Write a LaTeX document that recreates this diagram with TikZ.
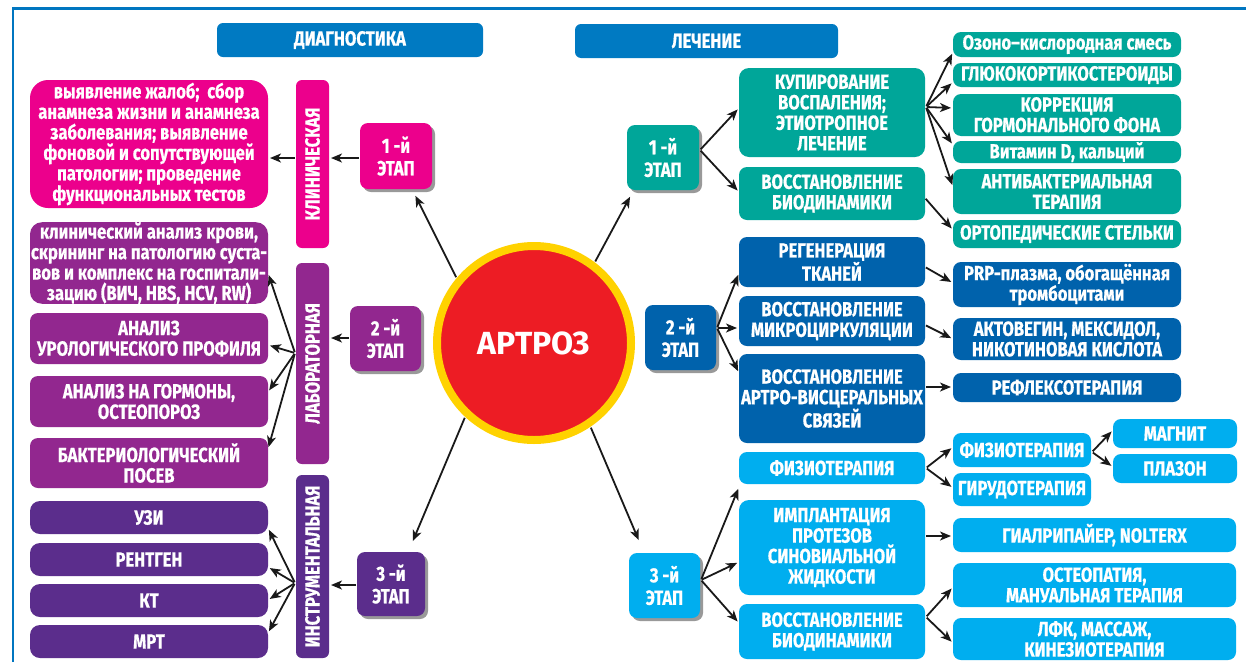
\documentclass[tikz,border=0pt]{standalone}
\usepackage{fontspec}
\setmainfont{Fira Sans}
\newfontfamily\condfam{Fira Sans}[FakeStretch=0.81, BoldFeatures={FakeBold=0.6}]
\usetikzlibrary{arrows.meta,shadows,calc}
\definecolor{cpink}{RGB}{236,0,140}
\definecolor{clab}{RGB}{146,39,143}
\definecolor{cins}{RGB}{91,45,140}
\definecolor{chead}{RGB}{0,122,194}
\definecolor{cteal}{RGB}{0,166,153}
\definecolor{cdblue}{RGB}{0,98,172}
\definecolor{clblue}{RGB}{0,174,239}
\definecolor{cred}{RGB}{237,28,36}
\definecolor{cyel}{RGB}{255,210,0}
\definecolor{cframe}{RGB}{0,118,192}
\newcommand\boxfont{\condfam\bfseries\fontsize{20.5}{20.5}\selectfont}
\newcommand\bx[7]{\node[#2, minimum width={#5-#3}, minimum height={#6-#4}] (#1) at ({(#3+#5)/2},{(#4+#6)/2}) {#7};}
\tikzset{
  box/.style={rounded corners=8pt, align=center, text=white, font=\boxfont, inner sep=0pt, outer sep=0pt},
  stage/.style={box, drop shadow={shadow xshift=3pt, shadow yshift=-3pt, fill=black!40, opacity=1}},
  bar/.style={box, rotate=90, rounded corners=6pt},
  head/.style={box, fill=chead, rounded corners=6pt},
  arr/.style={-{Stealth[length=11pt,width=9pt,inset=3pt]}, line width=1.8pt, black!90, shorten >=2pt, shorten <=1pt},
}
\begin{document}
\begin{tikzpicture}[x=1pt,y=-1pt]
\useasboundingbox (0,0) rectangle (1246,662);
\fill[white] (0,0) rectangle (1246,662);
\draw[cframe, line width=2.5pt] (13,662) -- (13,8.5) -- (1246,8.5);

% headers
\bx{hD}{head}{217}{23}{483}{57}{ДИАГНОСТИКА}
\bx{hL}{head}{575}{24}{838}{58}{ЛЕЧЕНИЕ}

% centre
\node[circle, fill=cred, draw=cyel, line width=8pt, minimum size=194pt, inner sep=0pt, text=white, font=\bfseries\fontsize{32}{34}\selectfont] (art) at (534,343) {АРТРОЗ};

% left: clinical
\bx{clin}{box,fill=cpink,rounded corners=18pt}{30}{80}{268}{208}{выявление жалоб;~~сбор\\анамнеза жизни и анамнеза\\заболевания; выявление\\фоновой и сопутствующей\\патологии; проведение\\функциональных тестов}
\node[bar, fill=cpink, minimum width=168pt, minimum height=33pt] (klin) at (312.5,164) {КЛИНИЧЕСКАЯ};
\bx{stA}{stage,fill=cpink}{360}{123}{432}{189}{1 -й\\[2pt]ЭТАП}

% left: lab
\bx{labA}{box,fill=clab,rounded corners=12pt}{30}{223}{268}{303}{клинический анализ крови,\\скрининг на патологию суста-\\вов и комплекс на госпитали-\\зацию (ВИЧ, HBS, HCV, RW)}
\bx{labB}{box,fill=clab}{30}{313}{268}{364}{АНАЛИЗ\\УРОЛОГИЧЕСКОГО ПРОФИЛЯ}
\bx{labC}{box,fill=clab}{30}{376}{268}{427}{АНАЛИЗ НА ГОРМОНЫ,\\ОСТЕОПОРОЗ}
\bx{labD}{box,fill=clab}{30}{438}{268}{488}{БАКТЕРИОЛОГИЧЕСКИЙ\\ПОСЕВ}
\node[bar, fill=clab, minimum width=201pt, minimum height=33pt] (labbar) at (312.5,363.5) {ЛАБОРАТОРНАЯ};
\bx{stB}{stage,fill=clab}{350}{306}{421}{371}{2 -й\\[2pt]ЭТАП}

% left: instrumental
\bx{insA}{box,fill=cins,rounded corners=10pt}{30}{501}{268}{534}{УЗИ}
\bx{insB}{box,fill=cins,rounded corners=10pt}{30}{543}{268}{576}{РЕНТГЕН}
\bx{insC}{box,fill=cins,rounded corners=10pt}{30}{584}{268}{617}{КТ}
\bx{insD}{box,fill=cins,rounded corners=10pt}{30}{625}{268}{658}{МРТ}
\node[bar, fill=cins, minimum width=183pt, minimum height=33pt] (insbar) at (312.5,566.5) {ИНСТРУМЕНТАЛЬНАЯ};
\bx{stC}{stage,fill=cins}{357}{552}{425}{616}{3 -й\\[2pt]ЭТАП}

% right: stage 1
\bx{stR1}{stage,fill=cteal}{627}{125}{699}{190}{1 -й\\[2pt]ЭТАП}
\bx{kup}{box,fill=cteal,rounded corners=10pt}{739}{68}{925}{157}{КУПИРОВАНИЕ\\ВОСПАЛЕНИЯ;\\ЭТИОТРОПНОЕ\\ЛЕЧЕНИЕ}
\bx{vbA}{box,fill=cteal}{739}{167}{925}{220}{ВОССТАНОВЛЕНИЕ\\БИОДИНАМИКИ}
\bx{oz}{box,fill=cteal}{953}{32}{1181}{57}{Озоно–кислородная смесь}
\bx{gl}{box,fill=cteal}{953}{63}{1181}{87}{ГЛЮКОКОРТИКОСТЕРОИДЫ}
\bx{kor}{box,fill=cteal}{953}{94}{1181}{136}{КОРРЕКЦИЯ\\ГОРМОНАЛЬНОГО ФОНА}
\bx{vit}{box,fill=cteal}{953}{141}{1181}{163}{Витамин D, кальций}
\bx{ab}{box,fill=cteal}{953}{169}{1181}{214}{АНТИБАКТЕРИАЛЬНАЯ\\ТЕРАПИЯ}
\bx{ort}{box,fill=cteal}{953}{220}{1181}{248}{ОРТОПЕДИЧЕСКИЕ СТЕЛЬКИ}

% right: stage 2
\bx{stR2}{stage,fill=cdblue}{645}{305}{716}{370}{2 -й\\[2pt]ЭТАП}
\bx{reg}{box,fill=cdblue}{739}{237}{925}{287}{РЕГЕНЕРАЦИЯ\\ТКАНЕЙ}
\bx{mik}{box,fill=cdblue}{739}{296}{925}{346}{ВОССТАНОВЛЕНИЕ\\МИКРОЦИРКУЛЯЦИИ}
\bx{avs}{box,fill=cdblue}{739}{354}{925}{443}{ВОССТАНОВЛЕНИЕ\\АРТРО-ВИСЦЕРАЛЬНЫХ\\СВЯЗЕЙ}
\bx{prp}{box,fill=cdblue}{953}{262}{1181}{307}{PRP-плазма, обогащённая\\тромбоцитами}
\bx{akt}{box,fill=cdblue}{953}{318}{1181}{360}{АКТОВЕГИН, МЕКСИДОЛ,\\НИКОТИНОВАЯ КИСЛОТА}
\bx{ref}{box,fill=cdblue}{953}{373}{1181}{402}{РЕФЛЕКСОТЕРАПИЯ}

% right: stage 3
\bx{stR3}{stage,fill=clblue}{629}{553}{700}{618}{3 -й\\[2pt]ЭТАП}
\bx{fiz}{box,fill=clblue}{739}{452}{925}{484}{ФИЗИОТЕРАПИЯ}
\bx{imp}{box,fill=clblue,rounded corners=10pt}{739}{500}{925}{595}{ИМПЛАНТАЦИЯ\\ПРОТЕЗОВ\\СИНОВИАЛЬНОЙ\\ЖИДКОСТИ}
\bx{vbB}{box,fill=clblue}{739}{604}{925}{659}{ВОССТАНОВЛЕНИЕ\\БИОДИНАМИКИ}
\bx{fizB}{box,fill=clblue}{953}{433}{1091}{467}{ФИЗИОТЕРАПИЯ}
\bx{gir}{box,fill=clblue}{953}{473}{1091}{506}{ГИРУДОТЕРАПИЯ}
\bx{mag}{box,fill=clblue}{1113}{419}{1237}{448}{МАГНИТ}
\bx{plz}{box,fill=clblue}{1113}{454}{1237}{483}{ПЛАЗОН}
\bx{gia}{box,fill=clblue}{953}{518}{1236}{552}{ГИАЛРИПАЙЕР, NOLTERX}
\bx{ost}{box,fill=clblue}{953}{563}{1236}{607}{ОСТЕОПАТИЯ,\\МАНУАЛЬНАЯ ТЕРАПИЯ}
\bx{lfk}{box,fill=clblue}{953}{618}{1236}{660}{ЛФК, МАССАЖ,\\КИНЕЗИОТЕРАПИЯ}

% fan origins
\coordinate (fanB) at (295,353);
\coordinate (fanC) at (295,583);
\coordinate (fanR1) at (700,150);
\coordinate (fanK) at (926,107);
\coordinate (fanR2) at (717,328);
\coordinate (fanR3) at (701,580);
\coordinate (fanF) at (926,468);
\coordinate (fanF2) at (1092,452);
\coordinate (fanV) at (926,617);

% left connectors
\draw[arr] (art.140) -- ($(stA.south)+(18.5,5)$);
\draw[arr] (stA.west |- 0,158) -- (klin.south |- 0,158);
\draw[arr] (klin.north |- 0,158) -- (clin.east |- 0,158);
\draw[arr] (stB.west |- 0,338) -- (labbar.south |- 0,338);
\draw[arr] (fanB) -- (labA.east |- 0,273);
\draw[arr] (fanB) -- (labB.east |- 0,345);
\draw[arr] (fanB) -- (labC.east |- 0,392);
\draw[arr] (fanB) -- (labD.east |- 0,449);
\draw[arr] (art.227) -- ($(stC.north)+(21,-9)$);
\draw[arr] (stC.west |- 0,585) -- (insbar.south |- 0,585);
\draw[arr] (fanC) -- (insA.east |- 0,528);
\draw[arr] (fanC) -- (insB.east |- 0,567);
\draw[arr] (fanC) -- (insC.east |- 0,600);
\draw[arr] (fanC) -- (insD.east |- 0,633);

% right connectors
\draw[arr] (art.53) -- ($(stR1.south)+(-32,5)$);
\draw[arr] (fanR1) -- (kup.west |- 0,108);
\draw[arr] (fanR1) -- (vbA.west |- 0,192);
\draw[arr] (fanK) -- (oz.west |- 0,52);
\draw[arr] (fanK) -- (gl.west |- 0,82);
\draw[arr] (fanK) -- (kor.west |- 0,108);
\draw[arr] (fanK) -- (vit.west |- 0,145);
\draw[arr] (fanK) -- (ab.west |- 0,187);
\draw[arr] (vbA.east |- 0,198) -- (ort.west |- 0,230);
\draw[arr] (fanR2) -- (reg.west |- 0,273);
\draw[arr] (fanR2) -- (mik.west |- 0,328);
\draw[arr] (fanR2) -- (avs.west |- 0,373);
\draw[arr] (reg.east |- 0,267) -- (prp.west |- 0,283);
\draw[arr] (mik.east |- 0,325) -- (akt.west |- 0,339);
\draw[arr] (avs.east |- 0,387) -- (ref.west |- 0,387);
\draw[arr] (art.304) -- ($(stR3.north)+(-25,-11)$);
\draw[arr] (fanR3) -- (fiz.west |- 0,487);
\draw[arr] (fanR3) -- (imp.west |- 0,562);
\draw[arr] (fanR3) -- (vbB.west |- 0,623);
\draw[arr] (fanF) -- (fizB.west |- 0,447);
\draw[arr] (fanF) -- (gir.west |- 0,488);
\draw[arr] (fanF2) -- (mag.west |- 0,430);
\draw[arr] (fanF2) -- (plz.west |- 0,467);
\draw[arr] (imp.east |- 0,536) -- (gia.west |- 0,536);
\draw[arr] (fanV) -- (ost.west |- 0,587);
\draw[arr] (fanV) -- (lfk.west |- 0,643);
\end{tikzpicture}
\end{document}
